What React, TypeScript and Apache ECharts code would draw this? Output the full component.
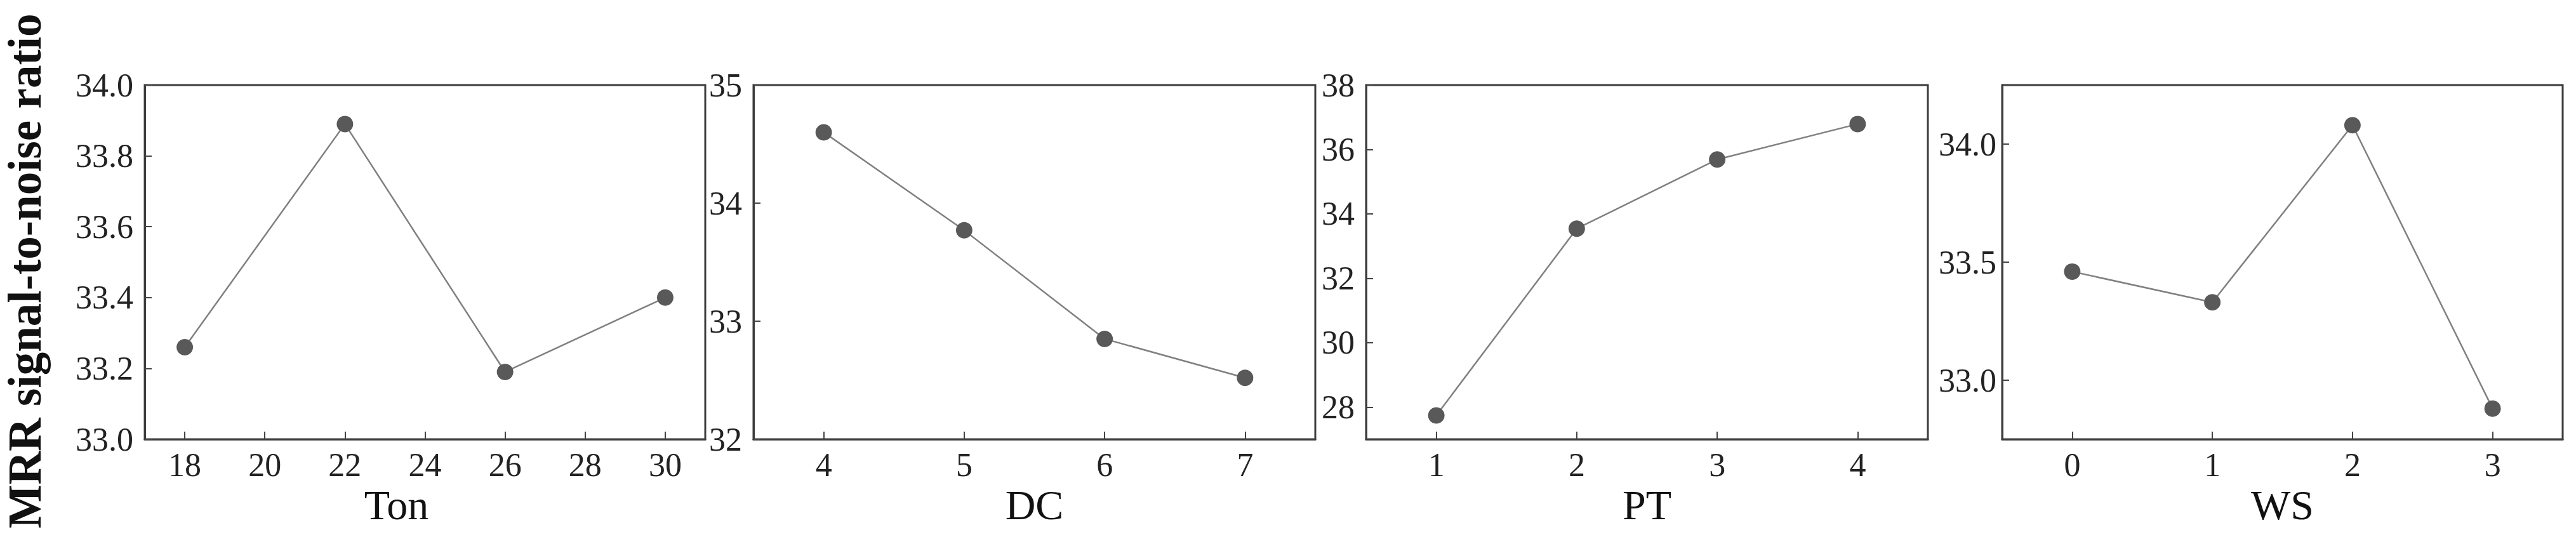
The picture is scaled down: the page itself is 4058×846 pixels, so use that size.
import React, { useEffect, useRef } from "react";
import * as echarts from "echarts";

// Factor levels (x values) and mean S/N ratios
const tonLevels = [18, 22, 26, 30];
const tonSN = [33.26, 33.89, 33.19, 33.4];
const dcLevels = [4, 5, 6, 7];
const dcSN = [34.6, 33.77, 32.85, 32.52];
const ptLevels = [1, 2, 3, 4];
const ptSN = [27.74, 33.54, 35.69, 36.79];
const wsLevels = [0, 1, 2, 3];
const wsSN = [33.46, 33.33, 34.08, 32.88];

// Tick labels
const tonTicks = [18, 20, 22, 24, 26, 28, 30];
const dcTicks = [4, 5, 6, 7];
const ptTicks = [1, 2, 3, 4];
const wsTicks = [0, 1, 2, 3];
const tonYTicks = [33.0, 33.2, 33.4, 33.6, 33.8, 34.0];
const dcYTicks = [32, 33, 34, 35];
const ptYTicks = [28, 30, 32, 34, 36, 38];
const wsYTicks = [33.0, 33.5, 34.0];

const xNames = ["Ton", "DC", "PT", "WS"];
const yTitle = "MRR signal-to-noise ratio";

const FONT = "'Liberation Serif', 'Times New Roman', serif";

export default function App() {
  const ref = useRef<HTMLDivElement>(null);

  useEffect(() => {
    if (!ref.current) return;
    const chart = echarts.init(ref.current, null, { renderer: "svg" });

    const panels = [
      { lv: tonLevels, sn: tonSN, xt: tonTicks, yt: tonYTicks, xmin: 17, xmax: 31, ymin: 33, ymax: 34, dec: 1, left: 228, width: 883, ym: 18, namePad: [0, 90, 0, 0] },
      { lv: dcLevels, sn: dcSN, xt: dcTicks, yt: dcYTicks, xmin: 3.5, xmax: 7.5, ymin: 32, ymax: 35, dec: 0, left: 1187, width: 885, ym: 18, namePad: [0, 0, 0, 0] },
      { lv: ptLevels, sn: ptSN, xt: ptTicks, yt: ptYTicks, xmin: 0.5, xmax: 4.5, ymin: 27, ymax: 38, dec: 0, left: 2152, width: 885, ym: 18, namePad: [0, 0, 0, 0] },
      { lv: wsLevels, sn: wsSN, xt: wsTicks, yt: wsYTicks, xmin: -0.5, xmax: 3.5, ymin: 32.75, ymax: 34.25, dec: 1, left: 3154, width: 883, ym: 9, namePad: [0, 0, 0, 0] },
    ];

    const labelStyle = { fontSize: 52, fontFamily: FONT, color: "#222" };
    const tickStyle = { color: "#444", width: 2 };
    const lineAxis = { show: true, onZero: false, lineStyle: { color: "#3c3c3c", width: 3 } };

    const option: any = {
      animation: false,
      backgroundColor: "#ffffff",
      grid: panels.map((p) => ({
        left: p.left,
        top: 134,
        width: p.width,
        height: 558,
        show: true,
        borderColor: "#3c3c3c",
        borderWidth: 3,
        backgroundColor: "transparent",
      })),
      xAxis: panels.map((p, i) => ({
        gridIndex: i,
        type: "value",
        min: p.xmin,
        max: p.xmax,
        axisLine: lineAxis,
        splitLine: { show: false },
        axisTick: { show: true, inside: true, length: 12, lineStyle: tickStyle, customValues: p.xt },
        axisLabel: { ...labelStyle, margin: 14, customValues: p.xt },
        name: xNames[i],
        nameLocation: "middle",
        nameGap: 62,
        nameTextStyle: { fontSize: 66, fontFamily: FONT, color: "#111", padding: p.namePad },
      })),
      yAxis: panels.map((p, i) => ({
        gridIndex: i,
        type: "value",
        min: p.ymin,
        max: p.ymax,
        axisLine: lineAxis,
        splitLine: { show: false },
        axisTick: { show: true, inside: true, length: 11, lineStyle: tickStyle, customValues: p.yt },
        axisLabel: {
          ...labelStyle,
          margin: p.ym,
          customValues: p.yt,
          formatter: (v: number) => v.toFixed(p.dec),
        },
      })),
      series: panels.map((p, i) => ({
        type: "line",
        xAxisIndex: i,
        yAxisIndex: i,
        data: p.lv.map((x, j) => [x, p.sn[j]]),
        symbol: "circle",
        symbolSize: 26,
        itemStyle: { color: "#595959" },
        lineStyle: { color: "#808080", width: 2.5 },
        z: 3,
      })),
      graphic: [
        {
          type: "text",
          x: 39,
          y: 427,
          rotation: Math.PI / 2,
          style: {
            text: yTitle,
            fontSize: 73,
            fontWeight: "bold",
            fontFamily: FONT,
            fill: "#111",
            align: "center",
            verticalAlign: "middle",
          },
        },
      ],
    };

    chart.setOption(option);
    return () => chart.dispose();
  }, []);

  return (
    <div
      ref={ref}
      style={{ position: "fixed", left: 0, top: 0, width: 4058, height: 846, background: "#fff" }}
    />
  );
}
